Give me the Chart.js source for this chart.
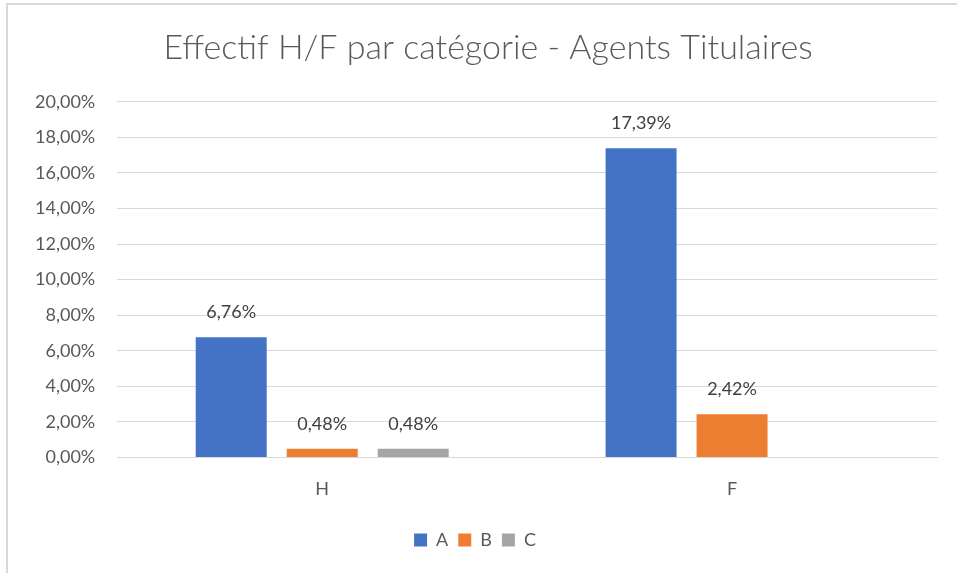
<!DOCTYPE html>
<html>
<head>
<meta charset="utf-8">
<script src="https://cdn.jsdelivr.net/npm/chart.js@4.4.1/dist/chart.umd.min.js"></script>
<style>
  html, body { margin: 0; padding: 0; background: #fff; }
  #wrap { position: relative; width: 957px; height: 573px; overflow: hidden; }
  #frame { position: absolute; left: 6px; top: 3px; width: 1000px; height: 700px;
           border-left: 2px solid #d9d9d9; border-top: 2px solid #d9d9d9; box-sizing: border-box; }
  canvas { position: absolute; left: 0; top: 0; }
</style>
</head>
<body>
<div id="wrap">
  <div id="frame"></div>
  <canvas id="c" width="957" height="573"></canvas>
</div>
<script>
const categories = ["H", "F"];
const seriesNames = ["A", "B", "C"];
const valuesA = [6.76, 17.39];
const valuesB = [0.48, 2.42];
const valuesC = [0.48, null];
const yTicks = [0, 2, 4, 6, 8, 10, 12, 14, 16, 18, 20];

const colors = ["#4472C4", "#ED7D31", "#A5A5A5"];
const FONT = "Lato, 'Open Sans', sans-serif";
const TITLE = 'Effectif H/F par catégorie - Agents Titulaires';

function fmt(v) {
  return v.toFixed(2).replace('.', ',') + '%';
}

const dataLabels = {
  id: 'dataLabels',
  afterDatasetsDraw(chart) {
    const ctx = chart.ctx;
    ctx.save();
    ctx.font = "18px " + FONT;
    ctx.fillStyle = "#404040";
    ctx.textAlign = "center";
    ctx.textBaseline = "middle";
    chart.data.datasets.forEach((ds, i) => {
      const meta = chart.getDatasetMeta(i);
      meta.data.forEach((bar, j) => {
        const v = ds.data[j];
        if (v === null || v === undefined) return;
        ctx.fillText(fmt(v), bar.x, bar.y - 25);
      });
    });
    ctx.restore();
  }
};

// draws the title text inside the box reserved by the title plugin, nudged to match the reference
const titleText = {
  id: 'titleText',
  afterDraw(chart) {
    const t = chart.titleBlock;
    if (!t) return;
    const ctx = chart.ctx;
    ctx.save();
    ctx.font = "300 34px " + FONT;
    ctx.fillStyle = "#595959";
    ctx.textAlign = "center";
    ctx.textBaseline = "middle";
    const cx = (t.left + t.right) / 2 + 13;
    const cy = t.top + 18 + 34 * 1.2 / 2;
    ctx.fillText(TITLE, cx, cy);
    ctx.restore();
  }
};

new Chart(document.getElementById('c'), {
  type: 'bar',
  data: {
    labels: categories,
    datasets: [
      { label: seriesNames[0], data: valuesA, backgroundColor: colors[0] },
      { label: seriesNames[1], data: valuesB, backgroundColor: colors[1] },
      { label: seriesNames[2], data: valuesC, backgroundColor: colors[2] }
    ]
  },
  options: {
    responsive: false,
    animation: false,
    devicePixelRatio: 1,
    layout: { padding: { left: 13, right: 20, top: 10, bottom: 14 } },
    datasets: { bar: { categoryPercentage: 0.666, barPercentage: 0.78 } },
    scales: {
      x: {
        grid: { display: false, drawTicks: false },
        border: { display: true, color: '#d9d9d9', width: 1 },
        ticks: { color: '#595959', font: { family: FONT, size: 18 }, padding: 21 }
      },
      y: {
        min: 0, max: 20,
        afterBuildTicks(axis) { axis.ticks = yTicks.map(v => ({ value: v })); },
        grid: { color: '#d9d9d9', lineWidth: 1, drawTicks: false },
        border: { display: false },
        ticks: {
          color: '#595959', font: { family: FONT, size: 18 }, padding: 22,
          callback: v => fmt(v)
        }
      }
    },
    plugins: {
      title: {
        display: true,
        text: TITLE,
        color: 'rgba(0,0,0,0)',
        font: { family: FONT, size: 34, weight: 300 },
        padding: { top: 18, bottom: 33 }
      },
      legend: {
        position: 'bottom',
        labels: {
          color: '#595959', font: { family: FONT, size: 18 },
          boxWidth: 13, boxHeight: 13, padding: 10
        }
      },
      tooltip: { enabled: false }
    }
  },
  plugins: [dataLabels, titleText]
});
</script>
</body>
</html>
